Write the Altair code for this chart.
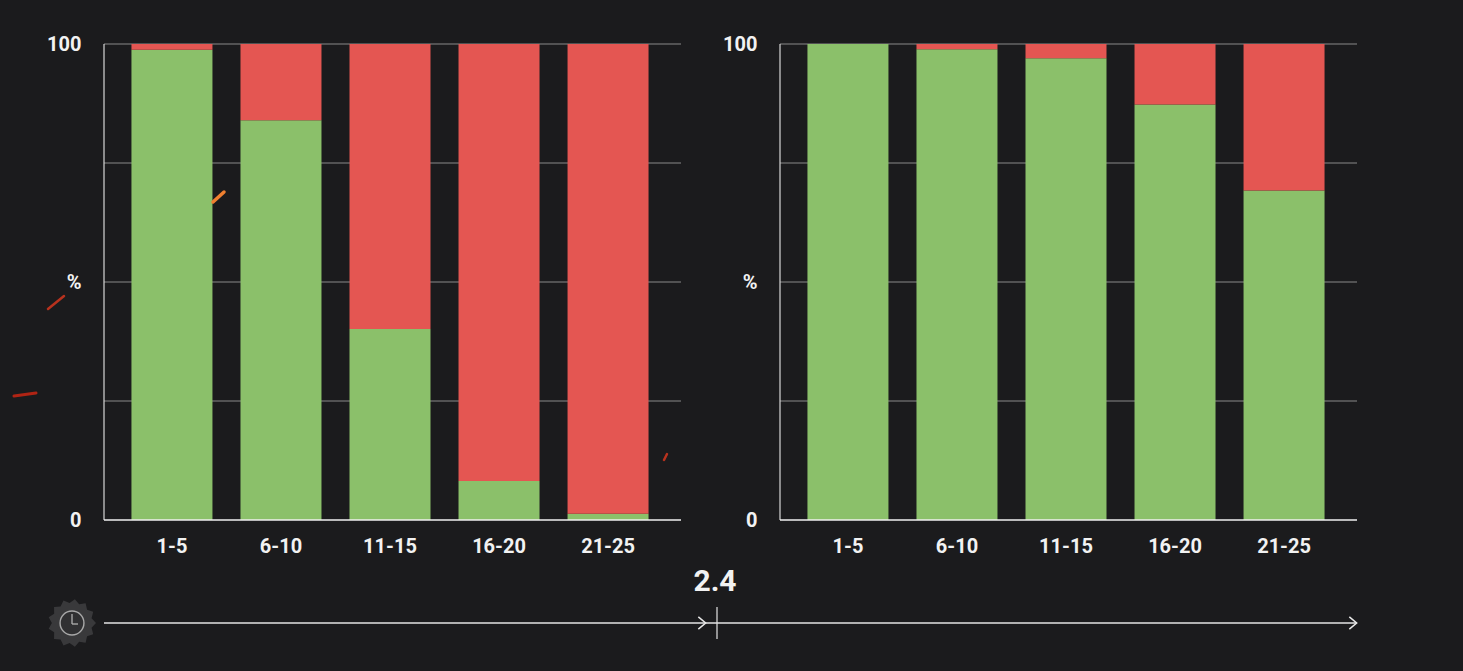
import math
import altair as alt
import pandas as pd

BG = "#1b1b1d"
GREEN = "#8bc06a"
RED = "#e45652"
FONT = "Roboto"

categories = ["1-5", "6-10", "11-15", "16-20", "21-25"]
left_green = [98.8, 84, 40.1, 8.2, 1.3]
right_green = [100, 98.9, 97, 87.3, 69.2]
y_ticks = [0, 25, 50, 75, 100]
line_segments = [(104, 717), (717, 1356)]
arrow_positions = [702, 1353]
divider_x = 717
divider_label = "2.4"
gear_x = 72

# decorative ember streaks: x, y, x2, y2 in panel pixels, colour, width
sparks = [
    (109, 158, 120, 148, "#f08030", 3.5),
    (-56, 265, -40, 252, "#b8321e", 2.5),
    (-90, 352, -68, 349, "#b02414", 3),
    (560, 416, 563, 410, "#b8321e", 2.5),
]


def panel(green, with_sparks=False):
    rows = []
    for c, g in zip(categories, green):
        rows.append({"cat": c, "status": "ok", "start": 0, "end": g})
        rows.append({"cat": c, "status": "bad", "start": g, "end": 100})
    df = pd.DataFrame(rows)
    x = alt.X(
        "cat:N",
        sort=categories,
        title=None,
        scale=alt.Scale(range=[13.5, 558.5], paddingInner=0.257, paddingOuter=0.128),
        axis=alt.Axis(
            labelAngle=0, labelColor="#f2f2f2", labelFont=FONT, labelFontWeight="bold",
            labelFontSize=20, labelPadding=16, ticks=False, domain=False, grid=False,
        ),
    )
    y_scale = alt.Scale(domain=[0, 100], nice=False)
    y = alt.Y(
        "start:Q",
        title=None,
        scale=y_scale,
        axis=alt.Axis(
            values=y_ticks,
            labelExpr="datum.value == 50 ? '%' : (datum.value == 25 || datum.value == 75) ? '' : datum.value",
            labelColor="#f2f2f2", labelFont=FONT, labelFontWeight="bold", labelFontSize=20,
            labelPadding=23, ticks=False, domain=False, grid=False,
            minExtent=60, maxExtent=60, labelBound=False, labelFlush=False,
        ),
    )
    grid = alt.Chart(pd.DataFrame({"start": y_ticks[1:]})).mark_rule(color="#8a8a8a", strokeWidth=1).encode(
        y=y, x=alt.value(0), x2=alt.value(577))
    bars = alt.Chart(df).mark_bar(clip=False).encode(
        x=x, y=y, y2="end:Q",
        color=alt.Color("status:N", scale=alt.Scale(domain=["ok", "bad"], range=[GREEN, RED]), legend=None),
    )
    left_rule = alt.Chart(pd.DataFrame({"a": [0]})).mark_rule(color="#d8d8d8", strokeWidth=1.2).encode(
        x=alt.value(0), y=alt.value(0), y2=alt.value(476))
    base_rule = alt.Chart(pd.DataFrame({"a": [0]})).mark_rule(color="#f0f0f0", strokeWidth=1.6).encode(
        x=alt.value(0), x2=alt.value(577), y=alt.value(476))
    layers = [grid, bars, left_rule, base_rule]
    if with_sparks:
        for x1, y1, x2, y2, col, w in sparks:
            layers.append(
                alt.Chart(pd.DataFrame({"a": [0]})).mark_rule(color=col, strokeWidth=w, strokeCap="round", clip=False).encode(
                    x=alt.value(x1), x2=alt.value(x2), y=alt.value(y1), y2=alt.value(y2))
            )
    return alt.layer(*layers).properties(width=577, height=476)


def gear_path(n=13, r1=1.0, r2=0.84):
    pts = []
    for i in range(2 * n):
        r = r1 if i % 2 == 0 else r2
        a = math.pi * i / n
        pts.append(f"{r * math.cos(a):.3f},{r * math.sin(a):.3f}")
    return "M" + " L".join(pts) + " Z"


x_tl = alt.X("x:Q", scale=alt.Scale(domain=[104, 1360], nice=False), axis=None)
y_tl = alt.Y("y:Q", scale=alt.Scale(domain=[0, 90], nice=False), axis=None)
LINE_Y = 28

segs = pd.DataFrame([{"x": a, "x2": b, "y": LINE_Y} for a, b in line_segments])
seg_layer = alt.Chart(segs).mark_rule(color="#e4e4e4", strokeWidth=1.4).encode(
    x=x_tl, x2="x2:Q", y=y_tl)
div_layer = alt.Chart(pd.DataFrame({"x": [divider_x], "y": [LINE_Y - 16], "y2": [LINE_Y + 16]})).mark_rule(
    color="#e4e4e4", strokeWidth=1.2).encode(x=x_tl, y=y_tl, y2="y2:Q")
arrows = alt.Chart(pd.DataFrame({"x": arrow_positions, "y": [LINE_Y, LINE_Y]})).mark_point(
    shape="M-0.6,-1 L0.6,0 L-0.6,1", color="#e8e8e8", strokeWidth=1.5, size=150, filled=False, opacity=1
).encode(x=x_tl, y=y_tl)
label = alt.Chart(pd.DataFrame({"x": [715], "y": [LINE_Y + 41], "t": [divider_label]})).mark_text(
    font=FONT, fontWeight="bold", fontSize=30, color="#f2f2f2", align="center", baseline="middle"
).encode(x=x_tl, y=y_tl, text="t:N")
gear = alt.Chart(pd.DataFrame({"x": [gear_x], "y": [LINE_Y]})).mark_point(
    shape=gear_path(), filled=True, color="#39393b", size=2300, opacity=1, clip=False
).encode(x=alt.value(-32), y=y_tl)
dial = alt.Chart(pd.DataFrame({"x": [gear_x], "y": [LINE_Y]})).mark_point(
    shape="circle", filled=True, fill="#303032", stroke="#a8a8a8", strokeWidth=1.4, size=570, opacity=1, clip=False
).encode(x=alt.value(-32), y=y_tl)
hand_v = alt.Chart(pd.DataFrame({"x": [gear_x], "y": [LINE_Y - 1], "y2": [LINE_Y + 9]})).mark_rule(
    color="#b0b0b0", strokeWidth=1.3).encode(x=alt.value(-32), y=y_tl, y2="y2:Q")
hand_h = alt.Chart(pd.DataFrame({"y": [LINE_Y - 1]})).mark_rule(
    color="#b0b0b0", strokeWidth=1.3).encode(x=alt.value(-32), x2=alt.value(-26), y=y_tl)

timeline = alt.layer(seg_layer, div_layer, arrows, label, gear, dial, hand_v, hand_h).properties(width=1256, height=90)

top = alt.hconcat(panel(left_green, True), panel(right_green), spacing=38).resolve_scale(color="shared")
chart = alt.vconcat(top, timeline, spacing=5).properties(
    background=BG,
    padding={"left": 4, "top": 26, "right": 0, "bottom": 0},
).configure_view(stroke=None).configure_concat(spacing=38)

chart.save("out.html", embed_options={"renderer": "svg", "actions": False,
                                      "defaultStyle": "body{background:#1b1b1d;}"})
